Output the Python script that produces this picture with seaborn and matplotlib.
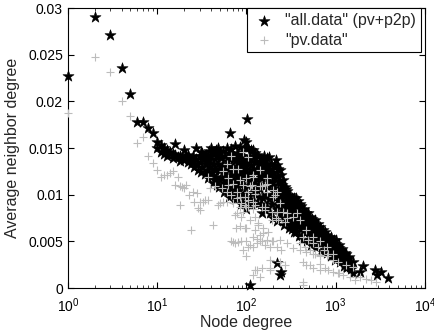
"""Average neighbor degree vs node degree: all.data (pv+p2p) vs pv.data."""

import matplotlib
matplotlib.use("Agg")
import matplotlib.pyplot as plt
import numpy as np
import pandas as pd
import seaborn as sns
from matplotlib.ticker import FixedLocator, FormatStrFormatter, LogLocator, NullFormatter

# --------------------------------------------------------------------------------------
# Data: (node degree, average neighbor degree)
# --------------------------------------------------------------------------------------
# "all.data" (pv+p2p), black stars
all_left = [
    (1, 0.0227), (2, 0.0290), (3, 0.0271), (4, 0.0236), (5, 0.0208), (6, 0.0178),
    (7, 0.0178), (8, 0.0171), (9, 0.0166), (10, 0.0157), (10, 0.0150), (11, 0.0153),
    (11, 0.0146), (12, 0.0150), (12, 0.0144), (13, 0.0148), (13, 0.0141), (14, 0.0146),
    (15, 0.0144), (15, 0.0139), (16, 0.0154), (16, 0.0143), (17, 0.0140), (18, 0.0142),
    (18, 0.0136),
]
all_band_a = [
    (19, 0.0139), (20, 0.0148), (20, 0.0137), (21, 0.0141), (22, 0.0135), (22, 0.0143),
    (23, 0.0139), (24, 0.0133), (25, 0.0141), (25, 0.0136), (26, 0.0130), (27, 0.0150),
    (27, 0.0138), (28, 0.0133), (29, 0.0127), (30, 0.0141), (30, 0.0135), (31, 0.0124),
    (32, 0.0145), (32, 0.0130), (33, 0.0138), (34, 0.0122), (35, 0.0143), (35, 0.0133),
    (36, 0.0127), (37, 0.0118), (38, 0.0147), (38, 0.0137), (39, 0.0130), (40, 0.0150),
    (40, 0.0141), (41, 0.0124), (42, 0.0133), (42, 0.0113), (43, 0.0145), (44, 0.0138),
    (45, 0.0128), (46, 0.0148), (46, 0.0119), (47, 0.0141), (48, 0.0150), (48, 0.0133),
    (49, 0.0108), (50, 0.0146), (50, 0.0126),
]
all_band_b = [
    (52, 0.0139), (53, 0.0118), (54, 0.0147), (55, 0.0131), (56, 0.0103), (57, 0.0142),
    (58, 0.0124), (60, 0.0150), (60, 0.0136), (61, 0.0112), (62, 0.0128), (63, 0.0145),
    (64, 0.0098), (65, 0.0166), (65, 0.0138), (66, 0.0120), (68, 0.0149), (68, 0.0131),
    (70, 0.0108), (71, 0.0143), (72, 0.0125), (74, 0.0152), (74, 0.0136), (75, 0.0095),
    (76, 0.0116), (78, 0.0145), (78, 0.0129), (80, 0.0104), (82, 0.0140), (83, 0.0121),
    (85, 0.0151), (86, 0.0133), (87, 0.0090), (88, 0.0112), (90, 0.0146), (91, 0.0126),
    (93, 0.0101), (95, 0.0159), (95, 0.0138), (97, 0.0118), (98, 0.0085), (100, 0.0157),
    (100, 0.0131), (102, 0.0181), (103, 0.0150), (104, 0.0109), (106, 0.0141),
    (108, 0.0123), (110, 0.0095), (112, 0.0148), (113, 0.0132), (115, 0.0114),
    (118, 0.0140), (120, 0.0102), (122, 0.0127), (125, 0.0145),
]
all_band_c = [
    (127, 0.0135), (130, 0.0117), (133, 0.0090), (135, 0.0141), (138, 0.0126),
    (141, 0.0106), (145, 0.0136), (148, 0.0118), (150, 0.0080), (152, 0.0130),
    (155, 0.0097), (158, 0.0141), (160, 0.0122), (165, 0.0110), (168, 0.0133),
    (172, 0.0087), (175, 0.0118), (180, 0.0140), (183, 0.0127), (187, 0.0100),
    (192, 0.0114), (196, 0.0075), (200, 0.0124), (205, 0.0110), (210, 0.0096),
    (215, 0.0137), (218, 0.0120), (222, 0.0072), (225, 0.0128), (228, 0.0105),
    (232, 0.0088), (237, 0.0126), (240, 0.0113), (245, 0.0098), (250, 0.0110),
    (255, 0.0082), (260, 0.0105), (265, 0.0068), (270, 0.0100), (275, 0.0090),
    (280, 0.0106), (285, 0.0076), (290, 0.0096), (295, 0.0085), (300, 0.0064),
    (305, 0.0100), (310, 0.0090), (315, 0.0079),
]
all_band_d = [
    (320, 0.0097), (325, 0.0070), (330, 0.0086), (340, 0.0096), (345, 0.0060),
    (350, 0.0080), (360, 0.0097), (365, 0.0089), (370, 0.0070), (380, 0.0093),
    (385, 0.0056), (390, 0.0082), (400, 0.0074), (410, 0.0088), (415, 0.0064),
    (420, 0.0052), (430, 0.0082), (440, 0.0070), (450, 0.0079), (460, 0.0060),
    (465, 0.0080), (475, 0.0050), (480, 0.0071), (490, 0.0064), (500, 0.0075),
    (510, 0.0058), (520, 0.0070), (530, 0.0046), (540, 0.0074), (550, 0.0063),
    (565, 0.0053), (580, 0.0073), (590, 0.0067), (600, 0.0044), (610, 0.0059),
    (630, 0.0065), (645, 0.0050), (660, 0.0060), (680, 0.0040), (700, 0.0056),
    (715, 0.0062), (730, 0.0047), (755, 0.0060), (770, 0.0052), (790, 0.0038),
]
all_fill_a = [
    (31, 0.0146), (34, 0.0140), (36, 0.0135), (39, 0.0120), (41, 0.0146), (44, 0.0126),
    (45, 0.0116), (47, 0.0110), (49, 0.0128), (51, 0.0116), (53, 0.0130), (55, 0.0110),
    (57, 0.0121), (59, 0.0106), (60, 0.0118), (62, 0.0140), (64, 0.0113), (66, 0.0103),
    (67, 0.0144), (69, 0.0117), (70, 0.0126), (72, 0.0100), (73, 0.0139), (75, 0.0109),
    (77, 0.0122), (79, 0.0097), (80, 0.0135), (81, 0.0113), (84, 0.0128), (85, 0.0102),
    (87, 0.0142), (89, 0.0120), (90, 0.0093), (92, 0.0134), (94, 0.0109), (96, 0.0128),
    (98, 0.0150), (99, 0.0098),
]
all_fill_b = [
    (101, 0.0122), (105, 0.0135), (107, 0.0090), (109, 0.0116), (111, 0.0138),
    (114, 0.0102), (116, 0.0126), (117, 0.0148), (120, 0.0117), (123, 0.0092),
    (124, 0.0135), (126, 0.0108), (128, 0.0125), (131, 0.0143), (134, 0.0112),
    (137, 0.0098), (140, 0.0133), (143, 0.0120), (146, 0.0090), (150, 0.0128),
    (153, 0.0110), (156, 0.0138), (159, 0.0085), (162, 0.0130), (164, 0.0100),
    (167, 0.0120), (170, 0.0139), (173, 0.0108), (177, 0.0095), (179, 0.0128),
    (182, 0.0113), (185, 0.0080), (189, 0.0122), (190, 0.0133), (194, 0.0090),
    (198, 0.0105),
]
all_fill_c = [
    (202, 0.0131), (207, 0.0118), (212, 0.0085), (216, 0.0102), (220, 0.0132),
    (224, 0.0094), (230, 0.0115), (235, 0.0078), (239, 0.0104), (243, 0.0121),
    (248, 0.0090), (252, 0.0100), (258, 0.0116), (262, 0.0088), (268, 0.0108),
    (272, 0.0078), (278, 0.0097), (283, 0.0070), (288, 0.0104), (293, 0.0090),
    (298, 0.0074), (303, 0.0094), (308, 0.0070), (313, 0.0085), (318, 0.0093),
    (323, 0.0063),
]
all_fill_d = [
    (335, 0.0091), (338, 0.0076), (342, 0.0066), (355, 0.0088), (358, 0.0072),
    (362, 0.0060), (375, 0.0083), (378, 0.0066), (395, 0.0090), (398, 0.0064),
    (405, 0.0078), (425, 0.0072), (435, 0.0061), (445, 0.0085), (455, 0.0068),
    (470, 0.0075), (485, 0.0057), (495, 0.0080), (505, 0.0066), (515, 0.0076),
    (535, 0.0060), (545, 0.0070), (560, 0.0068), (575, 0.0058), (595, 0.0063),
    (620, 0.0054), (640, 0.0069), (655, 0.0055), (670, 0.0065), (690, 0.0050),
    (720, 0.0058), (745, 0.0053), (760, 0.0044), (780, 0.0057),
]
all_tail = [
    (810, 0.0055), (830, 0.0045), (860, 0.0052), (880, 0.0034), (900, 0.0049),
    (930, 0.0041), (960, 0.0051), (990, 0.0030), (1010, 0.0047), (1040, 0.0038),
    (1080, 0.0043), (1120, 0.0028), (1150, 0.0040), (1200, 0.0033), (1250, 0.0024),
    (1300, 0.0036), (1320, 0.0021), (1370, 0.0031), (1420, 0.0026), (1500, 0.0020),
    (1580, 0.0016), (1880, 0.0017), (2040, 0.0024), (2760, 0.0019), (3250, 0.0017),
    (2900, 0.0014), (3860, 0.0011),
    (820, 0.0050), (850, 0.0041), (870, 0.0047), (890, 0.0055), (920, 0.0046),
    (950, 0.0037), (975, 0.0045), (1000, 0.0051), (1030, 0.0043), (1060, 0.0035),
    (1100, 0.0046), (1130, 0.0036), (1180, 0.0042), (1230, 0.0030), (1280, 0.0038),
    (1350, 0.0027), (1400, 0.0033), (1450, 0.0023), (1550, 0.0028),
]
all_outliers = [
    (109, 0.0003), (218, 0.0027), (237, 0.0014), (247, 0.0017),
]

# "pv.data", grey plus signs
pv_left = [
    (1, 0.0188), (2, 0.0248), (3, 0.0232), (4, 0.0200), (5, 0.0184), (6, 0.0155),
    (7, 0.0162), (8, 0.0142), (9, 0.0134), (10, 0.0127), (11, 0.0119), (12, 0.0121),
    (13, 0.0121), (14, 0.0123), (15, 0.0125), (16, 0.0110), (17, 0.0119), (18, 0.0109),
    (18, 0.0089), (19, 0.0108), (20, 0.0107), (21, 0.0110), (23, 0.0100), (24, 0.0062),
    (25, 0.0103), (26, 0.0092), (28, 0.0102), (29, 0.0086), (30, 0.0092), (30, 0.0084),
    (33, 0.0092), (34, 0.0094), (37, 0.0094), (37, 0.0119), (39, 0.0107), (42, 0.0068),
    (44, 0.0109), (48, 0.0089), (50, 0.0091), (55, 0.0092), (60, 0.0092),
]
pv_band_a = [
    (53, 0.0107), (55, 0.0125), (60, 0.0103), (60, 0.0133), (62, 0.0118), (62, 0.0110),
    (68, 0.0141), (68, 0.0100), (71, 0.0128), (71, 0.0112), (71, 0.0091), (74, 0.0078),
    (77, 0.0064), (78, 0.0103), (78, 0.0096), (78, 0.0080), (81, 0.0128), (84, 0.0116),
    (84, 0.0098), (84, 0.0087), (84, 0.0066), (88, 0.0091), (88, 0.0076), (92, 0.0110),
    (92, 0.0082), (92, 0.0146), (96, 0.0098), (96, 0.0089), (96, 0.0064), (100, 0.0118),
    (100, 0.0087), (100, 0.0064), (100, 0.0050), (104, 0.0094), (104, 0.0087),
    (105, 0.0103), (105, 0.0140), (109, 0.0109), (109, 0.0073), (114, 0.0110),
    (119, 0.0119), (119, 0.0092), (119, 0.0085), (119, 0.0121), (119, 0.0055),
]
pv_band_b = [
    (124, 0.0105), (124, 0.0101), (124, 0.0089), (124, 0.0076), (124, 0.0062),
    (130, 0.0053), (135, 0.0070), (135, 0.0068), (141, 0.0126), (141, 0.0109),
    (141, 0.0057), (141, 0.0050), (148, 0.0109), (148, 0.0087), (148, 0.0050),
    (154, 0.0064), (154, 0.0059), (161, 0.0110), (161, 0.0087), (161, 0.0084),
    (161, 0.0046), (168, 0.0118), (168, 0.0112), (168, 0.0103), (168, 0.0051),
    (175, 0.0060), (183, 0.0044), (192, 0.0082), (192, 0.0073), (192, 0.0050),
    (200, 0.0105), (200, 0.0098), (200, 0.0050), (209, 0.0100), (217, 0.0075),
    (218, 0.0103), (218, 0.0082), (218, 0.0044), (228, 0.0073), (237, 0.0091),
    (237, 0.0051), (247, 0.0041), (257, 0.0082), (272, 0.0071), (282, 0.0080),
    (282, 0.0075), (282, 0.0048),
]
pv_band_c = [
    (335, 0.0076), (335, 0.0043), (364, 0.0080), (396, 0.0048), (398, 0.0073),
    (398, 0.0041), (430, 0.0055), (450, 0.0044), (470, 0.0062), (470, 0.0039),
    (495, 0.0051), (515, 0.0041), (560, 0.0055), (560, 0.0048), (560, 0.0037),
    (590, 0.0037), (640, 0.0044), (670, 0.0050), (670, 0.0035), (670, 0.0034),
    (730, 0.0041), (790, 0.0044), (790, 0.0034), (830, 0.0037), (935, 0.0037),
    (935, 0.0030), (1060, 0.0028),
]
pv_lower = [
    (68, 0.0050), (71, 0.0049), (74, 0.0048), (81, 0.0049), (88, 0.0050), (92, 0.0041),
    (100, 0.0034), (104, 0.0044), (109, 0.0046), (119, 0.0044), (119, 0.0014),
    (124, 0.0019), (130, 0.0048), (130, 0.0019), (141, 0.0012), (148, 0.0021),
    (183, 0.0030), (183, 0.0021), (183, 0.0019), (237, 0.0028), (272, 0.0025),
    (430, 0.0028), (430, 0.0003), (430, 0.0007), (470, 0.0025), (515, 0.0025),
    (560, 0.0021), (670, 0.0026), (670, 0.0019), (755, 0.0021), (830, 0.0019),
    (935, 0.0017), (1060, 0.0016), (1100, 0.0016), (1220, 0.0014), (1320, 0.0025),
    (1450, 0.0012), (1570, 0.0023), (1650, 0.0009), (1880, 0.0012), (2200, 0.0010),
    (2500, 0.0009), (2850, 0.0007),
]

ALL_LABEL = '"all.data" (pv+p2p)'
PV_LABEL = '"pv.data"'

all_df = pd.DataFrame(
    all_left + all_band_a + all_band_b + all_band_c + all_band_d
    + all_fill_a + all_fill_b + all_fill_c + all_fill_d + all_tail + all_outliers,
    columns=["degree", "avg"],
)
pv_df = pd.DataFrame(
    pv_left + pv_band_a + pv_band_b + pv_band_c + pv_lower,
    columns=["degree", "avg"],
)

# --------------------------------------------------------------------------------------
# Style (MATLAB-like: boxed axes, inward ticks on all sides)
# --------------------------------------------------------------------------------------
sns.set_style("ticks")
plt.rcParams.update({
    "font.family": ["Liberation Sans", "DejaVu Sans"],
    "font.size": 10,
    "xtick.direction": "in",
    "ytick.direction": "in",
    "xtick.top": True,
    "ytick.right": True,
    "xtick.major.size": 4,
    "ytick.major.size": 4,
    "xtick.minor.size": 2,
    "axes.linewidth": 0.8,
    "axes.edgecolor": "black",
    "mathtext.default": "regular",
})

fig, ax = plt.subplots(figsize=(4.35, 3.35), dpi=100)
fig.subplots_adjust(left=0.156, right=0.977, bottom=0.140, top=0.976)

sns.scatterplot(data=all_df, x="degree", y="avg", ax=ax, marker="*", s=70,
                color="black", edgecolor="black", linewidth=0.4,
                label=ALL_LABEL, clip_on=False, zorder=2)
sns.scatterplot(data=pv_df, x="degree", y="avg", ax=ax, marker="+", s=30,
                color="#bcbcbc", linewidth=0.8,
                label=PV_LABEL, clip_on=False, zorder=3)

ax.set_xscale("log")
ax.set_xlim(1, 1e4)
ax.set_ylim(0, 0.03)
ax.xaxis.set_major_locator(LogLocator(base=10, numticks=10))
ax.xaxis.set_minor_locator(LogLocator(base=10, subs=np.arange(2, 10), numticks=20))
ax.xaxis.set_minor_formatter(NullFormatter())
ax.yaxis.set_major_locator(FixedLocator([0, 0.005, 0.01, 0.015, 0.02, 0.025, 0.03]))
ax.yaxis.set_major_formatter(FormatStrFormatter("%g"))
ax.tick_params(axis="both", labelsize=10, colors="black")
ax.tick_params(axis="x", which="major", pad=6)

ax.set_xlabel("Node degree", fontsize=11.5, labelpad=0)
ax.set_ylabel("Average neighbor degree", fontsize=11.5, labelpad=6)

for side in ["top", "right", "bottom", "left"]:
    ax.spines[side].set_visible(True)
    ax.spines[side].set_color("black")

leg = ax.legend(loc="upper right", bbox_to_anchor=(0.988, 1.0), frameon=True,
                fancybox=False, framealpha=1, edgecolor="black", fontsize=11.5,
                borderaxespad=0, handletextpad=0.5, borderpad=0.3,
                labelspacing=0.3, handlelength=1.6)
leg.get_frame().set_linewidth(0.8)

fig.savefig("out.png", dpi=100)
